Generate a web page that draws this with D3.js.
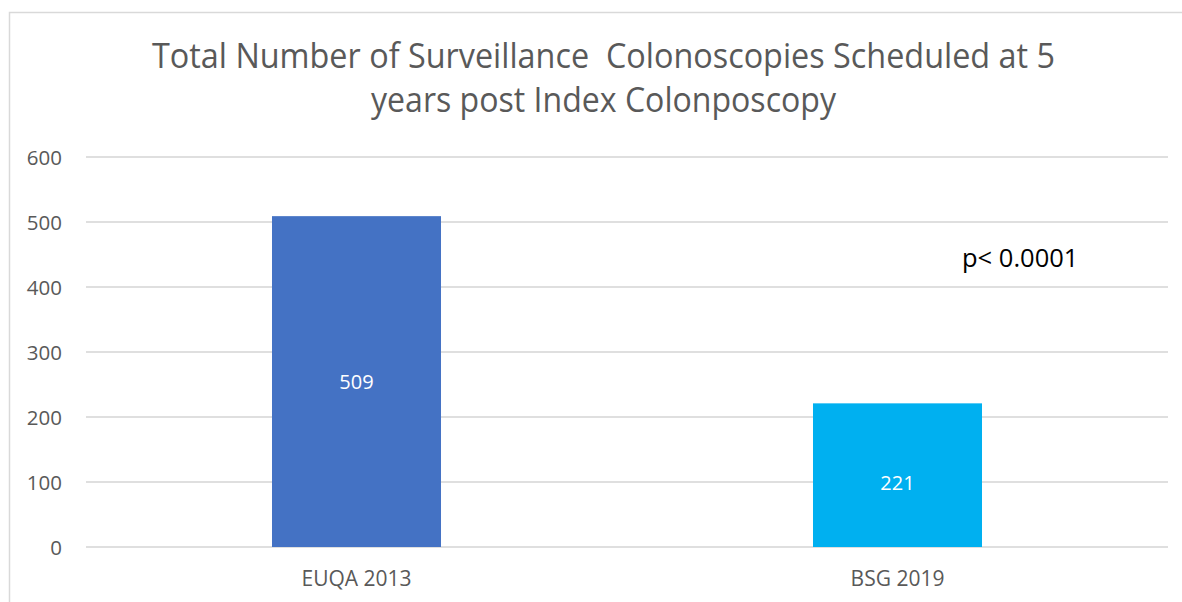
<!DOCTYPE html>
<html><head><meta charset="utf-8">
<script src="https://cdn.jsdelivr.net/npm/d3@7"></script>
<style>html,body{margin:0;padding:0;background:#fff;}svg{display:block;}</style>
</head><body>
<svg id="chart" width="1182" height="602"></svg>
<script>
const categories = ["EUQA 2013", "BSG 2019"];
const values = [509, 221];
const barColors = ["#4472C4", "#00B0F0"];
const yTicks = [0, 100, 200, 300, 400, 500, 600];
const titleLines = ["Total Number of Surveillance  Colonoscopies Scheduled at 5", "years post Index Colonposcopy"];
const annotation = "p< 0.0001";

const svg = d3.select("#chart");
const font = "'Open Sans', 'Noto Sans', sans-serif";

// frame
svg.append("rect").attr("x", 9.5).attr("y", 12.5).attr("width", 1188).attr("height", 620)
  .attr("fill", "#fff").attr("stroke", "#d9d9d9").attr("stroke-width", 1.5);

const x = d3.scaleBand().domain(categories).range([86, 1168]).paddingInner(0.6876).paddingOuter(0.3438);
const y = d3.scaleLinear().domain([0, 600]).range([547, 157]);

// grid
svg.append("g").selectAll("line").data(yTicks).join("line")
  .attr("x1", 86).attr("x2", 1168)
  .attr("y1", d => y(d)).attr("y2", d => y(d))
  .attr("stroke", "#d4d4d4").attr("stroke-width", 1.6);

// y axis labels
const yAxis = d3.axisLeft(y).tickValues(yTicks).tickSize(0).tickPadding(0);
const ga = svg.append("g").attr("transform", "translate(62,0)").call(yAxis);
ga.select(".domain").remove();
ga.selectAll("text").attr("font-family", font).attr("font-size", 20.5).attr("fill", "#595959").attr("dy", "0.36em");

// x axis labels
const xAxis = d3.axisBottom(x).tickSize(0).tickPadding(0);
const gx = svg.append("g").attr("transform", "translate(0,586)").call(xAxis);
gx.select(".domain").remove();
gx.selectAll("text").attr("font-family", font).attr("font-size", 21).attr("fill", "#595959").attr("dy", 0);

// bars
svg.append("g").selectAll("rect").data(values).join("rect")
  .attr("x", (d, i) => x(categories[i]))
  .attr("width", x.bandwidth())
  .attr("y", d => y(d))
  .attr("height", d => y(0) - y(d))
  .attr("fill", (d, i) => barColors[i]);

// value labels
svg.append("g").selectAll("text").data(values).join("text")
  .attr("x", (d, i) => x(categories[i]) + x.bandwidth() / 2)
  .attr("y", d => y(d / 2))
  .attr("dy", (d, i) => i === 1 ? "0.76em" : "0.36em")
  .attr("text-anchor", "middle")
  .attr("font-family", font).attr("font-size", 20).attr("fill", "#fff")
  .text(d => d);

// title
const tw = [903, 465];
const tb = [68, 112];
titleLines.forEach((t, i) => {
  svg.append("text").attr("x", 603.5).attr("y", tb[i]).attr("text-anchor", "middle")
    .style("white-space", "pre")
    .attr("font-family", font).attr("font-size", 34).attr("fill", "#595959")
    .attr("textLength", tw[i]).attr("lengthAdjust", "spacingAndGlyphs")
    .text(t);
});

// annotation
svg.append("text").attr("x", 962).attr("y", 267)
  .attr("font-family", font).attr("font-size", 25.5).attr("fill", "#000")
  .text(annotation);
</script>
</body></html>
